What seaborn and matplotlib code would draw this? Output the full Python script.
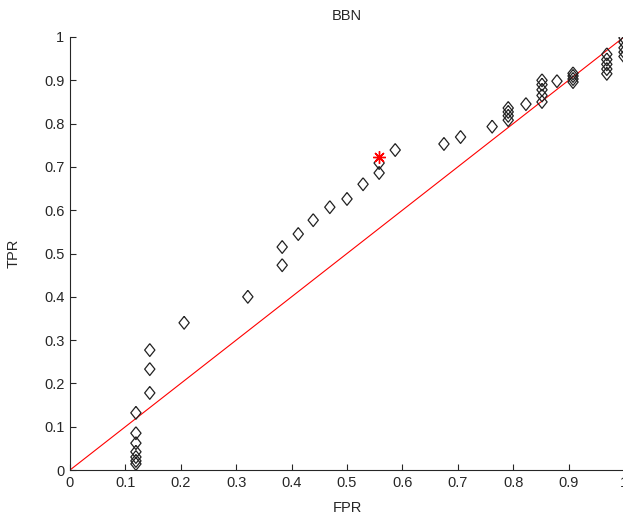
import seaborn as sns
import matplotlib.pyplot as plt
import pandas as pd

# ROC points
fpr = [0.119] * 7 + [0.144] * 3 + [0.206, 0.321, 0.383, 0.383, 0.412, 0.439,
       0.469, 0.500, 0.529, 0.558, 0.558, 0.587, 0.675, 0.705, 0.762] \
      + [0.791] * 4 + [0.823] + [0.852] * 5 + [0.879] + [0.908] * 4 \
      + [0.969] * 5 + [1.0] * 5
tpr = [0.132, 0.085, 0.062, 0.042, 0.030, 0.021, 0.014,
       0.277, 0.233, 0.178,
       0.340, 0.400, 0.473, 0.515, 0.545, 0.577,
       0.607, 0.626, 0.660, 0.686, 0.709, 0.739, 0.753, 0.769, 0.793,
       0.808, 0.818, 0.827, 0.836,
       0.845,
       0.850, 0.865, 0.878, 0.890, 0.900,
       0.898,
       0.896, 0.903, 0.910, 0.916,
       0.915, 0.926, 0.937, 0.948, 0.960,
       0.955, 0.965, 0.975, 0.988, 0.998]
best_fpr = [0.558]
best_tpr = [0.723]
diag = [0.0, 1.0]
ticks = [0, 0.1, 0.2, 0.3, 0.4, 0.5, 0.6, 0.7, 0.8, 0.9, 1]
tick_labels = ["0", "0.1", "0.2", "0.3", "0.4", "0.5", "0.6", "0.7", "0.8", "0.9", "1"]

df = pd.DataFrame({"FPR": fpr, "TPR": tpr})

sns.set_style("ticks")
plt.rcParams["font.family"] = ["Liberation Sans", "DejaVu Sans"]

fig = plt.figure(figsize=(6.23, 5.14), dpi=100)
ax = fig.add_axes([70 / 623, 44 / 514, 554 / 623, 433 / 514])

# matlab style diamond, a bit taller than wide
diamond = [(0, 1), (0.8, 0), (0, -1), (-0.8, 0), (0, 1)]

# diagonal reference line
sns.lineplot(x=diag, y=diag, ax=ax, color="red", linewidth=0.8)
# operating points
sns.scatterplot(data=df, x="FPR", y="TPR", ax=ax, marker=diamond, s=85,
                facecolor="none", edgecolor="#222222", linewidth=0.9, zorder=3)
# chosen point
ax.plot(best_fpr, best_tpr, linestyle="none", marker=(8, 2, 0), markersize=9,
        color="red", markeredgewidth=1.0, zorder=4)

ax.set_xlim(0, 1)
ax.set_ylim(0, 1)
ax.set_xticks(ticks)
ax.set_xticklabels(tick_labels)
ax.set_yticks(ticks)
ax.set_yticklabels(tick_labels)
ax.tick_params(direction="in", length=4, labelsize=10.5, width=0.8, pad=4)
ax.set_xlabel("FPR", fontsize=10.5, labelpad=8)
ax.set_ylabel("TPR", fontsize=10.5, labelpad=17)
ax.set_title("BBN", fontsize=10.5, pad=12)
for s in ["top", "right"]:
    ax.spines[s].set_visible(False)
for s in ["left", "bottom"]:
    ax.spines[s].set_linewidth(0.8)

fig.savefig("out.png", dpi=100)
